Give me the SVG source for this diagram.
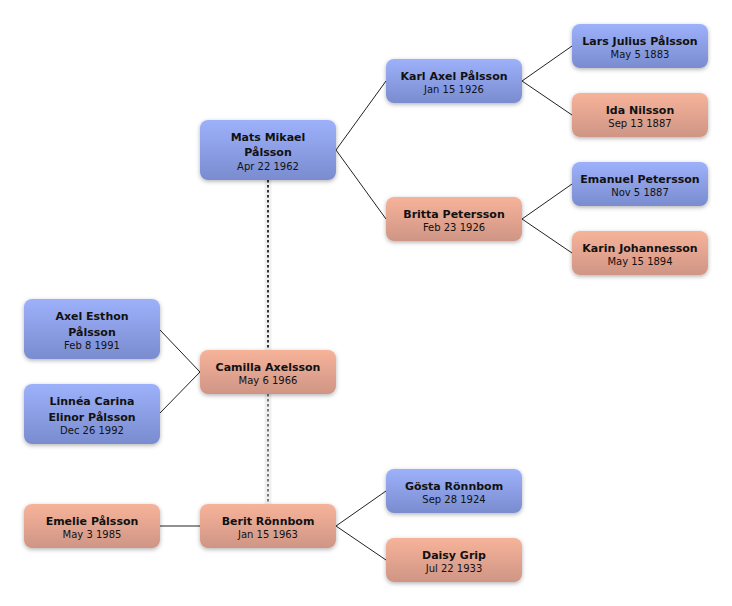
<svg xmlns="http://www.w3.org/2000/svg" width="732" height="606" viewBox="0 0 732 606">
<defs>
<linearGradient id="gBlue" x1="0" y1="0" x2="0" y2="1">
<stop offset="0" stop-color="#9db1fb"/>
<stop offset="1" stop-color="#7a8ccf"/>
</linearGradient>
<linearGradient id="gPink" x1="0" y1="0" x2="0" y2="1">
<stop offset="0" stop-color="#f7b39a"/>
<stop offset="1" stop-color="#cf9585"/>
</linearGradient>
<filter id="sh" x="-20%" y="-30%" width="140%" height="170%">
<feDropShadow dx="0" dy="1.5" stdDeviation="2" flood-color="#000" flood-opacity="0.3"/>
</filter>
</defs>
<style>
.m rect{fill:url(#gBlue);filter:url(#sh)}
.f rect{fill:url(#gPink);filter:url(#sh)}
text{font-family:"DejaVu Sans","Verdana",sans-serif;text-anchor:middle;fill:#111}
.n{font-weight:bold;font-size:11px}
.d{font-size:10px}
.ln{stroke:#222;stroke-width:1;fill:none}
.halo{stroke:#000;stroke-opacity:0.06;stroke-width:7;fill:none}
.dot{stroke-width:2;stroke-dasharray:2.5 2.5;fill:none}
</style>
<rect width="732" height="606" fill="#fff"/>
<g id="connectors">
<path class="halo" d="M268 180V504"/>
<path class="dot" d="M268 180V350" stroke="#333"/>
<path class="dot" d="M268 394V504" stroke="#777"/>
<path class="ln" d="M386 81L336 150L386 219"/>
<path class="ln" d="M572 46L522 81L572 115"/>
<path class="ln" d="M572 184L522 219L572 253"/>
<path class="ln" d="M160 330L200 372L160 413"/>
<path class="ln" d="M160 526H200"/>
<path class="ln" d="M386 491L336 526L386 560"/>
</g>
<g id="mats" class="m"><rect x="200" y="120" width="136" height="60" rx="8"/><text class="n" x="268" y="141">Mats Mikael</text><text class="n" x="268" y="156">Pålsson</text><text class="d" x="268" y="169.5">Apr 22 1962</text></g>
<g id="karl" class="m"><rect x="386" y="59" width="136" height="44" rx="8"/><text class="n" x="454" y="80">Karl Axel Pålsson</text><text class="d" x="454" y="92.5">Jan 15 1926</text></g>
<g id="britta" class="f"><rect x="386" y="197" width="136" height="44" rx="8"/><text class="n" x="454" y="218">Britta Petersson</text><text class="d" x="454" y="230.5">Feb 23 1926</text></g>
<g id="lars" class="m"><rect x="572" y="24" width="136" height="44" rx="8"/><text class="n" x="640" y="45">Lars Julius Pålsson</text><text class="d" x="640" y="57.5">May 5 1883</text></g>
<g id="ida" class="f"><rect x="572" y="93" width="136" height="44" rx="8"/><text class="n" x="640" y="114">Ida Nilsson</text><text class="d" x="640" y="126.5">Sep 13 1887</text></g>
<g id="emanuel" class="m"><rect x="572" y="162" width="136" height="44" rx="8"/><text class="n" x="640" y="183">Emanuel Petersson</text><text class="d" x="640" y="195.5">Nov 5 1887</text></g>
<g id="karin" class="f"><rect x="572" y="231" width="136" height="44" rx="8"/><text class="n" x="640" y="252">Karin Johannesson</text><text class="d" x="640" y="264.5">May 15 1894</text></g>
<g id="axel" class="m"><rect x="24" y="299" width="136" height="60" rx="8"/><text class="n" x="92" y="320">Axel Esthon</text><text class="n" x="92" y="336">Pålsson</text><text class="d" x="92" y="348.5">Feb 8 1991</text></g>
<g id="linnea" class="m"><rect x="24" y="384" width="136" height="60" rx="8"/><text class="n" x="92" y="405">Linnéa Carina</text><text class="n" x="92" y="421">Elinor Pålsson</text><text class="d" x="92" y="433.5">Dec 26 1992</text></g>
<g id="camilla" class="f"><rect x="200" y="350" width="136" height="44" rx="8"/><text class="n" x="268" y="371">Camilla Axelsson</text><text class="d" x="268" y="383.5">May 6 1966</text></g>
<g id="emelie" class="f"><rect x="24" y="504" width="136" height="44" rx="8"/><text class="n" x="92" y="525">Emelie Pålsson</text><text class="d" x="92" y="537.5">May 3 1985</text></g>
<g id="berit" class="f"><rect x="200" y="504" width="136" height="44" rx="8"/><text class="n" x="268" y="525">Berit Rönnbom</text><text class="d" x="268" y="537.5">Jan 15 1963</text></g>
<g id="gosta" class="m"><rect x="386" y="469" width="136" height="44" rx="8"/><text class="n" x="454" y="490">Gösta Rönnbom</text><text class="d" x="454" y="502.5">Sep 28 1924</text></g>
<g id="daisy" class="f"><rect x="386" y="538" width="136" height="44" rx="8"/><text class="n" x="454" y="559">Daisy Grip</text><text class="d" x="454" y="571.5">Jul 22 1933</text></g>
</svg>
